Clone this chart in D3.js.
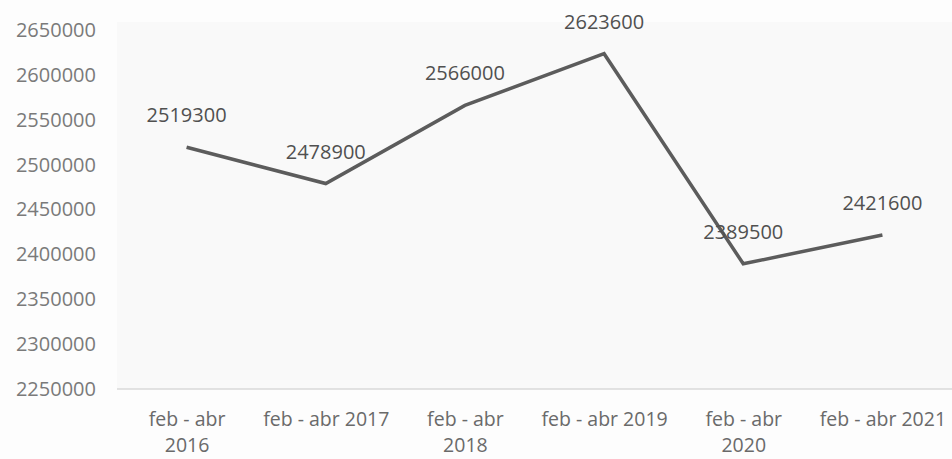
<!DOCTYPE html>
<html>
<head>
<meta charset="utf-8">
<script src="https://cdn.jsdelivr.net/npm/d3@7"></script>
<style>
  body { margin: 0; background: #fdfdfd; }
  svg text { font-family: "Open Sans", sans-serif; }
</style>
</head>
<body>
<div id="chart"></div>
<script>
// categories (line breaks as they wrap in the source)
var categories = ["feb -  abr\n2016", "feb - abr 2017", "feb -  abr\n2018", "feb - abr 2019", "feb -  abr\n2020", "feb - abr 2021"];
var values = [2519300, 2478900, 2566000, 2623600, 2389500, 2421600];
var yTicks = [2250000, 2300000, 2350000, 2400000, 2450000, 2500000, 2550000, 2600000, 2650000];

var width = 952, height = 459;

var svg = d3.select("#chart").append("svg")
    .attr("width", width)
    .attr("height", height);

var x = d3.scalePoint()
    .domain(categories)
    .range([117, 952])
    .padding(0.5);

var y = d3.scaleLinear()
    .domain([2250000, 2650000])
    .range([389, 30]);

// plot area (faint scanned tint)
svg.append("rect")
    .attr("x", 117)
    .attr("y", 22)
    .attr("width", 835)
    .attr("height", 367)
    .attr("fill", "#f9f9f9");

// baseline
svg.append("line")
    .attr("x1", 117).attr("x2", 952)
    .attr("y1", y(2250000)).attr("y2", y(2250000))
    .attr("stroke", "#d8d8d8")
    .attr("stroke-width", 1.5);

// y axis labels
var yAxis = d3.axisLeft(y)
    .tickValues(yTicks)
    .tickSize(0)
    .tickPadding(0)
    .tickFormat(d3.format("d"));

var gy = svg.append("g")
    .attr("transform", "translate(96,0)")
    .call(yAxis);
gy.select(".domain").remove();
gy.selectAll("text")
    .attr("fill", "#7a7a7a")
    .style("font-size", "20px");

// x axis labels
var xAxis = d3.axisBottom(x).tickSize(0).tickFormat("");
var gx = svg.append("g")
    .attr("transform", "translate(0,389)")
    .call(xAxis);
gx.select(".domain").remove();
gx.selectAll(".tick").each(function(d) {
    var lines = d.split("\n");
    var t = d3.select(this).append("text")
        .attr("fill", "#6a6a6a")
        .attr("text-anchor", "middle")
        .style("font-size", "19.5px");
    lines.forEach(function(l, i) {
        t.append("tspan")
            .attr("x", 0)
            .attr("y", 37 + i * 26)
            .text(l);
    });
});

// line
var line = d3.line()
    .x(function(d, i) { return x(categories[i]); })
    .y(function(d) { return y(d); });

svg.append("path")
    .datum(values)
    .attr("fill", "none")
    .attr("stroke", "#5c5c5c")
    .attr("stroke-width", 3.5)
    .attr("stroke-linejoin", "miter")
    .attr("d", line);

// data labels
svg.selectAll(".lbl")
    .data(values)
    .enter().append("text")
    .attr("class", "lbl")
    .attr("x", function(d, i) { return x(categories[i]); })
    .attr("y", function(d) { return y(d) - 25; })
    .attr("text-anchor", "middle")
    .attr("fill", "#505050")
    .style("font-size", "20px")
    .text(function(d) { return d; });
</script>
</body>
</html>
